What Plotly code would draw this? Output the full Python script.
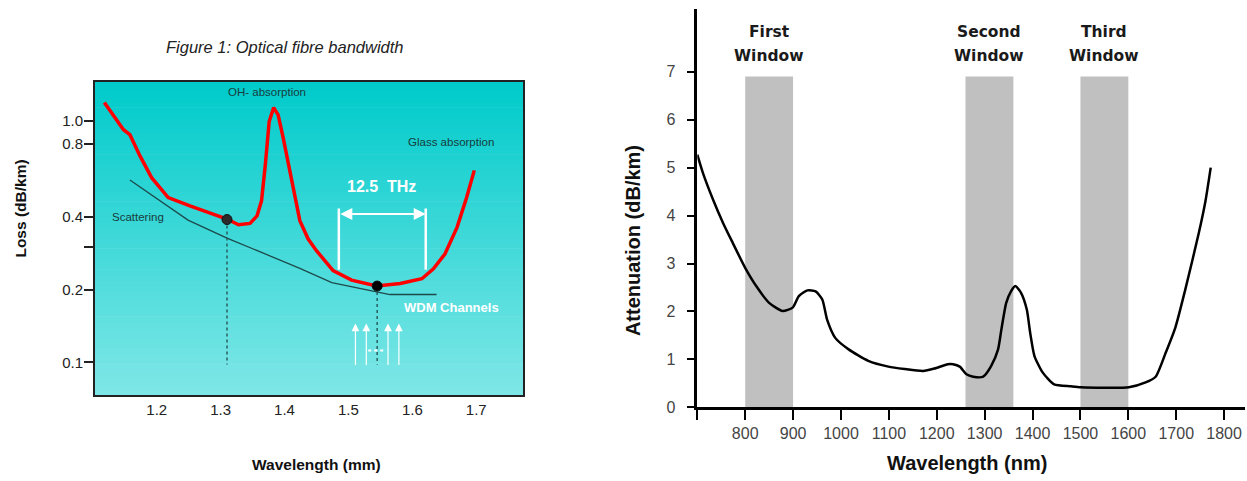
import numpy as np
import plotly.graph_objects as go

# ---------------- Left chart data (Figure 1: Optical fibre bandwidth) ----------------
loss_wl = [1.118, 1.148, 1.158, 1.174, 1.192, 1.218, 1.252, 1.310, 1.328, 1.346, 1.357, 1.364,
           1.370, 1.376, 1.383, 1.390, 1.398, 1.409, 1.424, 1.437, 1.450, 1.476, 1.505, 1.544,
           1.581, 1.615, 1.633, 1.651, 1.670, 1.685, 1.697]
loss_val = [1.19, 0.917, 0.875, 0.713, 0.581, 0.481, 0.444, 0.392, 0.371, 0.376, 0.404, 0.466,
            0.659, 0.992, 1.133, 1.057, 0.847, 0.600, 0.386, 0.324, 0.290, 0.240, 0.219, 0.207,
            0.212, 0.222, 0.244, 0.281, 0.362, 0.481, 0.623]
scat_wl = [1.158, 1.249, 1.310, 1.424, 1.474, 1.565, 1.638]
scat_val = [0.568, 0.388, 0.327, 0.245, 0.214, 0.191, 0.191]
dot_wl = [1.310, 1.545]
dot_val = [0.390, 0.207]
dot_floor = 0.098
bw_edges = [1.485, 1.621]
bw_top, bw_bottom, bw_arrow = 0.433, 0.242, 0.411
wdm_wl = [1.511, 1.528, 1.562, 1.579]
wdm_base, wdm_tip = 0.0963, 0.145
wdm_gap_wl = [1.531, 1.559]
wdm_gap_val = 0.112
left_xticks = [1.2, 1.3, 1.4, 1.5, 1.6, 1.7]
left_yticks = [0.1, 0.2, 0.3, 0.4, 0.8, 1.0]
left_yticktext = ["0.1", "0.2", "", "0.4", "0.8", "1.0"]

# ---------------- Right chart data (attenuation windows) ----------------
att_nm = [700, 712, 733, 754, 774, 800, 823, 850, 878, 899, 912, 930, 947, 961, 971, 988, 1016,
          1057, 1099, 1133, 1171, 1195, 1223, 1234, 1248, 1262, 1276, 1297, 1314, 1328, 1335,
          1345, 1355, 1364, 1376, 1388, 1395, 1404, 1421, 1445, 1480, 1501, 1601, 1636, 1657,
          1678, 1698, 1719, 1747, 1761, 1772]
att_val = [5.27, 4.88, 4.33, 3.84, 3.43, 2.91, 2.53, 2.18, 2.01, 2.08, 2.32, 2.44, 2.42, 2.25,
           1.83, 1.45, 1.21, 0.97, 0.85, 0.80, 0.76, 0.81, 0.90, 0.90, 0.85, 0.69, 0.64, 0.64,
           0.87, 1.21, 1.63, 2.18, 2.42, 2.53, 2.39, 2.04, 1.56, 1.07, 0.73, 0.48, 0.44, 0.42,
           0.42, 0.52, 0.64, 1.14, 1.66, 2.46, 3.63, 4.30, 5.00]
windows = [(800, 900), (1260, 1360), (1500, 1600)]
window_names = [("First", "Window"), ("Second", "Window"), ("Third", "Window")]
window_top = 6.9
right_xticks = list(range(700, 1801, 100))
right_xticktext = [""] + [str(v) for v in range(800, 1801, 100)]
right_yticks = list(range(0, 8))

W, H = 1247, 481
VS = 1 / 0.981  # vertical stretch applied to measured pixel rows
def px(x):
    return x / W
def py(y):
    return max(0.0, 1 - (y * VS) / H)

fig = go.Figure()

# gradient background of left panel (stripes in domain coordinates)
shapes = []
N = 60
top_c = np.array([0, 203, 203])
bot_c = np.array([128, 231, 231])
for i in range(N):
    t = (i + 0.5) / N  # 0 bottom, 1 top
    c = bot_c + (top_c - bot_c) * t
    shapes.append(dict(type="rect", xref="x domain", yref="y domain",
                       x0=0, x1=1, y0=i / N, y1=(i + 1) / N + 0.002,
                       fillcolor="rgb(%d,%d,%d)" % tuple(c.astype(int)),
                       line=dict(width=0), layer="below"))
# grey windows on right panel
for lo, hi in windows:
    shapes.append(dict(type="rect", xref="x2", yref="y2", x0=lo, x1=hi, y0=0, y1=window_top,
                       fillcolor="#c0c0c0", line=dict(width=0), layer="below"))

# scattering line
fig.add_trace(go.Scatter(x=scat_wl, y=scat_val, mode="lines", xaxis="x", yaxis="y",
                         line=dict(color="#1d4a4a", width=1.3), hoverinfo="skip"))
# dotted drop lines
for xw, yv in zip(dot_wl, dot_val):
    fig.add_trace(go.Scatter(x=[xw, xw], y=[yv, dot_floor], mode="lines", xaxis="x", yaxis="y",
                             line=dict(color="#2a5e5e", width=1.5, dash="dot"), hoverinfo="skip"))
# bandwidth vertical white lines
for xw in bw_edges:
    fig.add_trace(go.Scatter(x=[xw, xw], y=[bw_top, bw_bottom], mode="lines", xaxis="x", yaxis="y",
                             line=dict(color="white", width=2.5), hoverinfo="skip"))
# WDM gap dots
fig.add_trace(go.Scatter(x=wdm_gap_wl, y=[wdm_gap_val, wdm_gap_val], mode="lines", xaxis="x", yaxis="y",
                         line=dict(color="white", width=2, dash="dot"), hoverinfo="skip"))
# loss curve
fig.add_trace(go.Scatter(x=loss_wl, y=loss_val, mode="lines", xaxis="x", yaxis="y",
                         line=dict(color="#ff0000", width=3.5), hoverinfo="skip"))
# dots
fig.add_trace(go.Scatter(x=dot_wl, y=dot_val, mode="markers", xaxis="x", yaxis="y",
                         marker=dict(color=["#2b2b2b", "#000000"], size=10,
                                     line=dict(color="#111", width=1)), hoverinfo="skip"))

# right attenuation curve
fig.add_trace(go.Scatter(x=att_nm, y=att_val, mode="lines", xaxis="x2", yaxis="y2",
                         line=dict(color="black", width=2.5, shape="spline", smoothing=0.6),
                         hoverinfo="skip"))

ann = []
def text(t, x, y, font, xref="paper", yref="paper", **kw):
    d = dict(text=t, x=x, y=y, xref=xref, yref=yref, showarrow=False, font=font,
             xanchor="center", yanchor="middle")
    d.update(kw)
    ann.append(d)

small = dict(family="Liberation Sans, Arial", size=11.5, color="#173c3c")
text("<i>Figure 1: Optical fibre bandwidth</i>", px(285), py(47),
     dict(family="Liberation Sans, Arial", size=16.5, color="#222"))
text("OH- absorption", px(267), py(91.7), small)
text("Glass absorption", px(451), py(141.7), small)
text("Scattering", px(138.3), py(216.7), small)
text("<b>12.5\u00a0 THz</b>", px(381), py(186), dict(family="Liberation Sans, Arial", size=16, color="white"))
text("<b>WDM Channels</b>", px(451.7), py(307.3), dict(family="Liberation Sans, Arial", size=13, color="white"))
text("<b>Loss (dB/km)</b>", px(21), py(208.5), dict(family="Liberation Sans, Arial", size=15.5, color="#111"),
     textangle=-90)
text("<b>Wavelength (mm)</b>", px(316), 1 - 473 / H,
     dict(family="Liberation Sans, Arial", size=15.5, color="#111"))

# double arrow
ann.append(dict(text="", x=bw_edges[1], y=np.log10(bw_arrow), ax=bw_edges[0], ay=np.log10(bw_arrow),
                xref="x", yref="y", axref="x", ayref="y", showarrow=True, arrowside="end+start",
                arrowhead=2, arrowsize=1.2, arrowwidth=2, arrowcolor="white", standoff=0, startstandoff=0))
# WDM arrows
for xw in wdm_wl:
    ann.append(dict(text="", x=xw, y=np.log10(wdm_tip), ax=xw, ay=np.log10(wdm_base),
                    xref="x", yref="y", axref="x", ayref="y", showarrow=True,
                    arrowhead=2, arrowsize=1.3, arrowwidth=1.2, arrowcolor="white", standoff=0))

# right panel texts
wfont = dict(family="DejaVu Sans", size=15.5, color="#1a1a1a")
for (lo, hi), (l1, l2) in zip(windows, window_names):
    text("<b>%s</b>" % l1, (lo + hi) / 2, py(32), wfont, xref="x2")
    text("<b>%s</b>" % l2, (lo + hi) / 2, py(55.5), wfont, xref="x2")
text("<b>Attenuation (dB/km)</b>", px(633), py(241), dict(family="Liberation Sans, Arial", size=20, color="#111"),
     textangle=-90)
text("<b>Wavelength (nm)</b>", px(967), 1 - 471.5 / H,
     dict(family="Liberation Sans, Arial", size=20, color="#111"))

tick_r = dict(family="Liberation Sans, Arial", size=16, color="#444")
fig.update_layout(
    width=W, height=H, margin=dict(l=0, r=0, t=0, b=0),
    paper_bgcolor="white", plot_bgcolor="white", showlegend=False,
    shapes=shapes, annotations=ann,
    xaxis=dict(domain=[px(95), px(523.3)], anchor="y", range=[1.1034, 1.7737],
               showline=True, mirror=True, linecolor="#222", linewidth=2,
               ticks="", tickvals=left_xticks, ticktext=[str(v) for v in left_xticks],
               showgrid=False, zeroline=False, ticklabelstandoff=0,
               tickfont=dict(family="Liberation Sans, Arial", size=15, color="#222")),
    yaxis=dict(domain=[py(395), py(81.7)], anchor="x", type="log", range=[-1.135, 0.161],
               showline=True, mirror=True, linecolor="#222", linewidth=2,
               ticks="outside", ticklen=9, tickwidth=1.5, tickcolor="#222",
               tickvals=left_yticks, ticktext=left_yticktext,
               showgrid=False, zeroline=False, ticklabelstandoff=-2,
               tickfont=dict(family="Liberation Sans, Arial", size=15, color="#222")),
    xaxis2=dict(domain=[px(697.3), px(1245)], anchor="y2", range=[700, 1843.6],
                showline=True, linecolor="black", linewidth=2.5,
                ticks="outside", ticklen=10, tickwidth=1.5, tickcolor="black",
                tickvals=right_xticks, ticktext=right_xticktext,
                showgrid=False, zeroline=False, ticklabelstandoff=0,
                tickfont=tick_r),
    yaxis2=dict(domain=[py(407.3), py(9.3)], anchor="x2", range=[0, 8.3],
                showline=True, linecolor="black", linewidth=2.5,
                ticks="outside", ticklen=8, tickwidth=1.5, tickcolor="black",
                tickvals=right_yticks, ticktext=[str(v) for v in right_yticks],
                showgrid=False, zeroline=False, ticklabelstandoff=8,
                tickfont=tick_r),
)

post = ("var h=document.documentElement,b=document.body;"
        "[h,b].forEach(function(e){e.style.margin='0';e.style.padding='0';e.style.overflow='hidden';});")
fig.write_html("out.html", config={"displayModeBar": False}, post_script=post)
